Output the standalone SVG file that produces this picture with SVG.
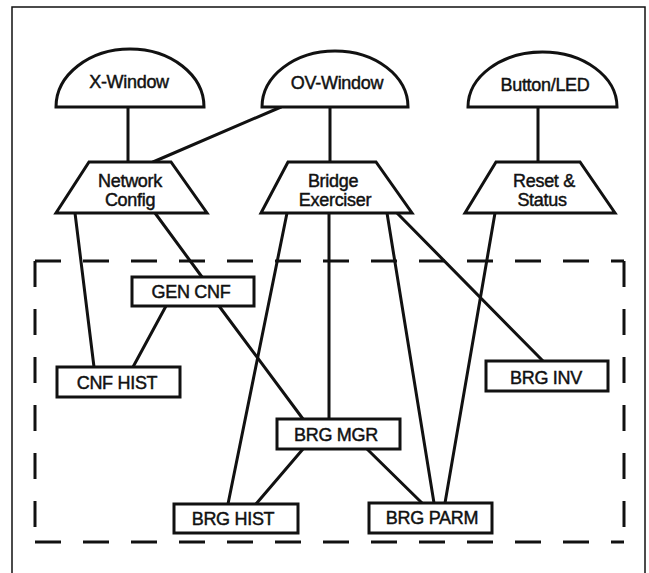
<svg xmlns="http://www.w3.org/2000/svg" width="649" height="573" viewBox="0 0 649 573">
  <style>
    .frame { fill: none; stroke: #111; stroke-width: 1.5; }
    .group { fill: none; stroke: #111; stroke-width: 3; stroke-dasharray: 26 22; }
    .shape { fill: #fff; stroke: #111; stroke-width: 3; stroke-linejoin: miter; }
    .edge { fill: none; stroke: #111; stroke-width: 3; stroke-linecap: round; }
    text { font-family: "Liberation Sans", Arial, Helvetica, sans-serif; font-size: 18px; fill: #111; stroke: #111; stroke-width: 0.45; text-anchor: middle; letter-spacing: -0.3px; }
  </style>
  <rect width="649" height="573" fill="#fff"/>

  <!-- outer frame (bottom edge runs past the page) -->
  <rect class="frame" x="12" y="7" width="633" height="580"/>

  <!-- dashed grouping boundary, each side dashed from its own start -->
  <g id="subsystem-boundary">
    <line class="group" x1="35" y1="261" x2="624" y2="261"/>
    <line class="group" x1="35" y1="542" x2="624" y2="542"/>
    <line class="group" x1="35" y1="261" x2="35" y2="542"/>
    <line class="group" x1="624" y1="261" x2="624" y2="542"/>
  </g>

  <!-- connectors -->
  <g id="connectors">
    <line class="edge" x1="128" y1="107" x2="128" y2="162"/>
    <line class="edge" x1="281" y1="107" x2="153" y2="162"/>
    <line class="edge" x1="330" y1="107" x2="330" y2="162"/>
    <line class="edge" x1="538" y1="107" x2="538" y2="162"/>
    <line class="edge" x1="75" y1="213" x2="94" y2="367"/>
    <line class="edge" x1="155" y1="213" x2="202" y2="277"/>
    <line class="edge" x1="166" y1="306" x2="133" y2="367"/>
    <line class="edge" x1="219" y1="306" x2="303" y2="419"/>
    <line class="edge" x1="287" y1="213" x2="228" y2="504"/>
    <line class="edge" x1="329" y1="213" x2="329" y2="419"/>
    <line class="edge" x1="387" y1="213" x2="434" y2="503"/>
    <line class="edge" x1="397" y1="213" x2="543" y2="361"/>
    <line class="edge" x1="495" y1="213" x2="445" y2="503"/>
    <line class="edge" x1="303" y1="449" x2="256" y2="504"/>
    <line class="edge" x1="367" y1="449" x2="422" y2="503"/>
  </g>

  <!-- user interface domes -->
  <g id="x-window">
    <path class="shape" d="M56,107 A74,58 0 0 1 204,107 Z"/>
    <text x="129" y="88">X-Window</text>
  </g>
  <g id="ov-window">
    <path class="shape" d="M262,107 A73,56 0 0 1 408,107 Z"/>
    <text x="337" y="89">OV-Window</text>
  </g>
  <g id="button-led">
    <path class="shape" d="M468,107 A74.5,55 0 0 1 617,107 Z"/>
    <text x="545" y="91">Button/LED</text>
  </g>

  <!-- application trapezoids -->
  <g id="network-config">
    <polygon class="shape" points="89,162 171,162 207,213 56,213"/>
    <text x="130" y="187">Network</text>
    <text x="130" y="206">Config</text>
  </g>
  <g id="bridge-exerciser">
    <polygon class="shape" points="288,162 376,162 412,213 261,213"/>
    <text x="333" y="187">Bridge</text>
    <text x="335" y="206">Exerciser</text>
  </g>
  <g id="reset-status">
    <polygon class="shape" points="496,162 580,162 615,213 465,213"/>
    <text x="544" y="187">Reset &amp;</text>
    <text x="542" y="206">Status</text>
  </g>

  <!-- managed object boxes -->
  <g id="gen-cnf">
    <rect class="shape" x="132" y="277" width="122" height="29"/>
    <text x="191" y="298">GEN CNF</text>
  </g>
  <g id="cnf-hist">
    <rect class="shape" x="57" y="367" width="123" height="30"/>
    <text x="117" y="389">CNF HIST</text>
  </g>
  <g id="brg-inv">
    <rect class="shape" x="486" y="361" width="122" height="30"/>
    <text x="546" y="384">BRG INV</text>
  </g>
  <g id="brg-mgr">
    <rect class="shape" x="277" y="419" width="123" height="30"/>
    <text x="336" y="441">BRG MGR</text>
  </g>
  <g id="brg-hist">
    <rect class="shape" x="174" y="504" width="124" height="29"/>
    <text x="233" y="525">BRG HIST</text>
  </g>
  <g id="brg-parm">
    <rect class="shape" x="369" y="503" width="123" height="30"/>
    <text x="432" y="524">BRG PARM</text>
  </g>
</svg>
